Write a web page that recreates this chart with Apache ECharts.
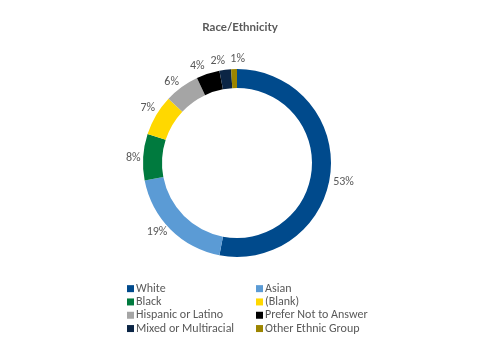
<!DOCTYPE html>
<html><head><meta charset="utf-8">
<script src="https://cdn.jsdelivr.net/npm/echarts@6/dist/echarts.min.js"></script>
<style>html,body{margin:0;padding:0;background:#fff}#c{width:480px;height:360px}</style>
</head><body><div id="c"></div>
<script>
const categories = ["White","Asian","Black","(Blank)","Hispanic or Latino","Prefer Not to Answer","Mixed or Multiracial","Other Ethnic Group"];
const values = [53,19,8,7,6,4,2,1];
const colors = ["#004A8C","#5B9BD5","#007A3E","#FFD800","#A5A5A5","#000000","#0B2545","#9C8500"];
const leftLegend = ["White","Black","Hispanic or Latino","Mixed or Multiracial"];
const rightLegend = ["Asian","(Blank)","Prefer Not to Answer","Other Ethnic Group"];
const labelNudge = {0:[1,9], 1:[-5,-6], 2:[2,2], 3:[2,-1], 4:[-3,5], 5:[-7,4], 6:[-6,3], 7:[4,2]};
const font = "Carlito, 'Liberation Sans Narrow', Lato, sans-serif";
const chart = echarts.init(document.getElementById('c'));
const legendCommon = {orient:'vertical', icon:'rect', itemWidth:7, itemHeight:7, itemGap:0,
  textStyle:{fontFamily:font, fontSize:12, lineHeight:13.3, color:'#595959', padding:[0,0,0,-3]}, top:277};
chart.setOption({
  animation:false,
  title:{text:'Race/Ethnicity', left:'center', top:16, textStyle:{fontFamily:"Lato, sans-serif", fontSize:11.5, fontWeight:'bold', color:'#595959'}},
  legend:[Object.assign({data:leftLegend, left:122}, legendCommon), Object.assign({data:rightLegend, left:251}, legendCommon)],
  series:[{type:'pie', center:[237,163], radius:[75,94], startAngle:90, clockwise:true,
    avoidLabelOverlap:false,
    label:{show:true, position:'outside', formatter:'{c}%', fontFamily:font, fontSize:12, color:'#595959'},
    labelLine:{show:true, length:12, length2:0, lineStyle:{color:'rgba(0,0,0,0)'}},
    labelLayout:function(p){
      const pts = p.labelLinePoints;
      if(!pts) return {hideOverlap:false};
      const pt = pts[1];
      const n = labelNudge[p.dataIndex] || [0,0];
      return {x: pt[0]+n[0], y: pt[1]+n[1], align:'center', verticalAlign:'middle', hideOverlap:false};
    },
    itemStyle:{borderWidth:0},
    data: categories.map((n,i)=>({name:n, value:values[i], itemStyle:{color:colors[i]}}))
  }]
});
</script></body></html>
